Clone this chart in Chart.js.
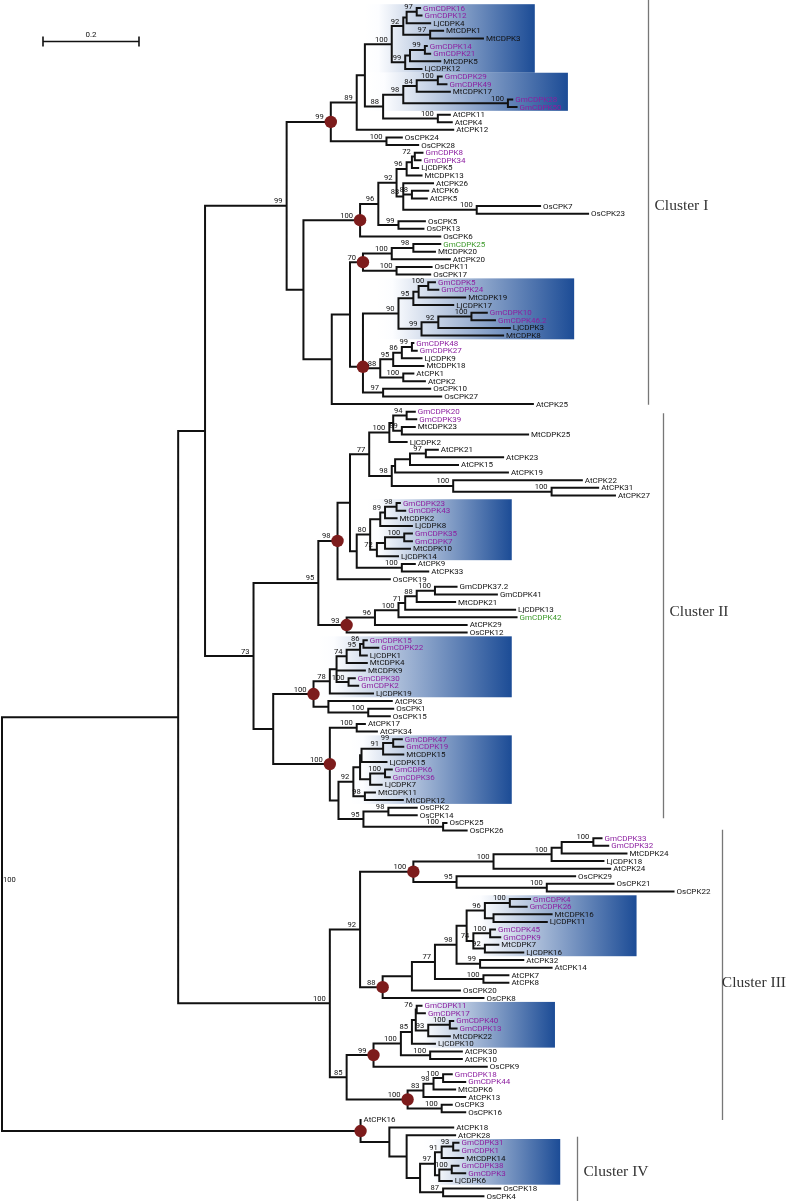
<!DOCTYPE html>
<html>
<head>
<meta charset="utf-8">
<script src="https://cdn.jsdelivr.net/npm/chart.js@4.4.0/dist/chart.umd.min.js"></script>
<style>
  html, body { margin: 0; padding: 0; background: #fff; }
  #wrap { width: 787px; height: 1201px; }
</style>
</head>
<body>
<div id="wrap"><canvas id="tree" width="787" height="1201"></canvas></div>
<script>
// ---------------------------------------------------------------
// Tip order (top to bottom) and tip depth, substitutions per site
// ---------------------------------------------------------------
const leavesI = ['GmCDPK16','GmCDPK12','LjCDPK4','MtCDPK1','MtCDPK3','GmCDPK14','GmCDPK21','MtCDPK5','LjCDPK12',
  'GmCDPK29','GmCDPK49','MtCDPK17','GmCDPK28','GmCDPK50','AtCPK11','AtCPK4','AtCPK12','OsCPK24','OsCPK28',
  'GmCDPK8','GmCDPK34','LjCDPK5','MtCDPK13','AtCPK26','AtCPK6','AtCPK5','OsCPK7','OsCPK23','OsCPK5','OsCPK13','OsCPK6',
  'GmCDPK25','MtCDPK20','AtCPK20','OsCPK11','OsCPK17','GmCDPK5','GmCDPK24','MtCDPK19','LjCDPK17','GmCDPK10','GmCDPK46.2',
  'LjCDPK3','MtCDPK8','GmCDPK48','GmCDPK27','LjCDPK9','MtCDPK18','AtCPK1','AtCPK2','OsCPK10','OsCPK27','AtCPK25'];
const depthI = [0.871,0.874,0.892,0.919,1.002,0.885,0.892,0.913,0.874,
  0.916,0.926,0.933,1.063,1.072,0.933,0.937,0.940,0.833,0.867,
  0.876,0.872,0.867,0.874,0.898,0.888,0.885,1.121,1.221,0.881,0.878,0.913,
  0.913,0.902,0.933,0.895,0.892,0.902,0.909,0.965,0.940,1.010,1.027,
  1.058,1.044,0.857,0.864,0.874,0.878,0.857,0.881,0.892,0.915,1.106];

const leavesII = ['GmCDPK20','GmCDPK39','MtCDPK23','MtCDPK25','LjCDPK2','AtCPK21','AtCPK23','AtCPK15','AtCPK19',
  'AtCPK22','AtCPK31','AtCPK27','GmCDPK23','GmCDPK43','MtCDPK2','LjCDPK8','GmCDPK35','GmCDPK7','MtCDPK10','LjCDPK14',
  'AtCPK9','AtCPK33','OsCPK19','GmCDPK37.2','GmCDPK41','MtCDPK21','LjCDPK13','GmCDPK42','AtCPK29','OsCPK12',
  'GmCDPK15','GmCDPK22','LjCDPK1','MtCDPK4','MtCDPK9','GmCDPK30','GmCDPK2','LjCDPK19','AtCPK3','OsCPK1','OsCPK15',
  'AtCPK17','AtCPK34','GmCDPK47','GmCDPK19','MtCDPK15','LjCDPK15','GmCDPK6','GmCDPK36','LjCDPK7','MtCDPK11','MtCDPK12',
  'OsCPK2','OsCPK14','OsCPK25','OsCPK26'];
const depthII = [0.860,0.863,0.860,1.096,0.843,0.908,1.044,0.950,1.054,
  1.208,1.242,1.277,0.829,0.840,0.822,0.854,0.854,0.854,0.850,0.825,
  0.860,0.888,0.808,0.947,1.031,0.944,1.069,1.072,0.968,0.968,
  0.760,0.784,0.760,0.760,0.756,0.735,0.742,0.773,0.812,0.815,0.808,
  0.756,0.781,0.833,0.836,0.836,0.801,0.812,0.808,0.791,0.777,0.835,
  0.864,0.864,0.926,0.968];

const leavesIII = ['GmCDPK33','GmCDPK32','MtCDPK24','LjCDPK18','AtCPK24','OsCPK29','OsCPK21','OsCPK22',
  'GmCDPK4','GmCDPK26','MtCDPK16','LjCDPK11','GmCDPK45','GmCDPK9','MtCDPK7','LjCDPK16','AtCPK32','AtCPK14',
  'AtCPK7','AtCPK8','OsCPK20','OsCPK8','GmCDPK11','GmCDPK17','GmCDPK40','GmCDPK13','MtCDPK22','LjCDPK10',
  'AtCPK30','AtCPK10','OsCPK9','GmCDPK18','GmCDPK44','MtCDPK6','AtCPK13','OsCPK3','OsCPK16'];
const depthIII = [1.249,1.263,1.301,1.253,1.267,1.194,1.274,1.399,
  1.100,1.093,1.145,1.135,1.027,1.038,1.034,1.086,1.086,1.145,
  1.055,1.055,0.954,1.003,0.874,0.881,0.940,0.947,0.933,0.902,
  0.958,0.958,1.010,0.937,0.965,0.944,0.965,0.937,0.965];

const leavesIV = ['AtCPK16','AtCPK18','AtCPK28','GmCDPK31','GmCDPK1','MtCDPK14','GmCDPK38','GmCDPK3','LjCDPK6','OsCPK18','OsCPK4'];
const depthIV = [0.747,0.940,0.944,0.951,0.951,0.961,0.951,0.965,0.937,1.038,1.003];

// ---------------------------------------------------------------
// Internal nodes: [id, depth, bootstrap, ...children] (children first)
// ---------------------------------------------------------------
const nodesI = [
  ['A1',0.864,'97','GmCDPK16','GmCDPK12'], ['A2',0.843,'','A1','LjCDPK4'], ['A3',0.892,'97','MtCDPK1','MtCDPK3'],
  ['A4',0.836,'92','A2','A3'], ['A5',0.881,'99','GmCDPK14','GmCDPK21'], ['A6',0.850,'','A5','MtCDPK5'],
  ['A7',0.840,'99','A6','LjCDPK12'], ['A8',0.812,'100','A4','A7'],
  ['B1',0.908,'100','GmCDPK29','GmCDPK49'], ['B2',0.864,'84','B1','MtCDPK17'], ['B3',1.054,'100','GmCDPK28','GmCDPK50'],
  ['B4',0.836,'98','B2','B3'], ['B5',0.908,'100','AtCPK11','AtCPK4'], ['B6',0.794,'88','B4','B5'],
  ['A9',0.756,'','A8','B6'], ['A10',0.739,'89','A9','AtCPK12'], ['C1',0.801,'100','OsCPK24','OsCPK28'],
  ['C2',0.685,'99','A10','C1'],
  ['D1',0.860,'72','GmCDPK8','GmCDPK34'], ['D2',0.854,'','D1','LjCDPK5'], ['D3',0.843,'96','D2','MtCDPK13'],
  ['D4',0.854,'88','AtCPK6','AtCPK5'], ['D5',0.989,'100','OsCPK7','OsCPK23'], ['D6',0.836,'83','AtCPK26','D4','D5'],
  ['D7',0.822,'92','D3','D6'], ['E1',0.826,'99','OsCPK5','OsCPK13'], ['E2',0.784,'96','D7','E1'],
  ['E3',0.746,'100','E2','OsCPK6'],
  ['F1',0.857,'98','GmCDPK25','MtCDPK20'], ['F2',0.812,'100','F1','AtCPK20'], ['F3',0.822,'100','OsCPK11','OsCPK17'],
  ['F4',0.752,'70','F2','F3'],
  ['G1',0.888,'100','GmCDPK5','GmCDPK24'], ['G2',0.868,'','G1','MtCDPK19'], ['G3',0.857,'95','G2','LjCDPK17'],
  ['G4',0.978,'100','GmCDPK10','GmCDPK46.2'], ['G5',0.909,'92','G4','LjCDPK3'], ['G6',0.874,'99','G5','MtCDPK8'],
  ['G7',0.826,'90','G3','G6'],
  ['H1',0.854,'99','GmCDPK48','GmCDPK27'], ['H2',0.833,'86','H1','LjCDPK9'], ['H3',0.815,'95','H2','MtCDPK18'],
  ['H4',0.836,'100','AtCPK1','AtCPK2'], ['H5',0.788,'88','H3','H4'], ['H6',0.794,'97','OsCPK10','OsCPK27'],
  ['H7',0.752,'','G7','H5'], ['H8',0.752,'','H7','H6'],
  ['I1',0.725,'','F4','H8'], ['I2',0.687,'','I1','AtCPK25'], ['I3',0.628,'','E3','I2'], ['I4',0.593,'99','C2','I3']
];

const nodesII = [
  ['J1',0.843,'94','GmCDPK20','GmCDPK39'], ['J2',0.833,'89','MtCDPK23','MtCDPK25'], ['J3',0.815,'','J1','J2'],
  ['J4',0.807,'100','J3','LjCDPK2'],
  ['K1',0.883,'97','AtCPK21','AtCPK23'], ['K2',0.850,'','K1','AtCPK15'], ['K3',0.819,'','K2','AtCPK19'],
  ['K4',1.145,'100','AtCPK31','AtCPK27'], ['K5',0.940,'100','AtCPK22','K4'], ['K6',0.812,'98','K3','K5'],
  ['K7',0.765,'77','J4','K6'],
  ['L1',0.822,'98','GmCDPK23','GmCDPK43'], ['L2',0.798,'89','L1','MtCDPK2'], ['L3',0.788,'','L2','LjCDPK8'],
  ['L4',0.838,'100','GmCDPK35','GmCDPK7'], ['L5',0.798,'','L4','MtCDPK10'], ['L6',0.781,'72','L5','LjCDPK14'],
  ['L7',0.767,'80','L3','L6'], ['L8',0.833,'100','AtCPK9','AtCPK33'], ['L9',0.739,'','L7','L8'],
  ['L10',0.725,'','K7','L9'], ['L11',0.699,'98','L10','OsCPK19'],
  ['M1',0.902,'100','GmCDPK37.2','GmCDPK41'], ['M2',0.864,'88','M1','MtCDPK21'], ['M3',0.840,'71','M2','LjCDPK13'],
  ['M4',0.826,'100','M3','GmCDPK42'], ['M5',0.777,'96','M4','AtCPK29'], ['M6',0.718,'93','M5','OsCPK12'],
  ['M7',0.659,'95','L11','M6'],
  ['O1',0.753,'86','GmCDPK15','GmCDPK22'], ['O2',0.746,'95','O1','LjCDPK1'], ['O3',0.718,'74','O2','MtCDPK4'],
  ['O4',0.722,'100','GmCDPK30','GmCDPK2'], ['O5',0.697,'','O3','MtCDPK9','O4'], ['O6',0.683,'78','O5','LjCDPK19'],
  ['O7',0.763,'100','OsCPK1','OsCPK15'], ['O8',0.680,'','AtCPK3','O7'], ['O9',0.649,'100','O6','O8'],
  ['P1',0.739,'100','AtCPK17','AtCPK34'], ['P2',0.815,'99','GmCDPK47','GmCDPK19'], ['P3',0.794,'91','P2','MtCDPK15'],
  ['P4',0.749,'','P3','LjCDPK15'], ['P5',0.798,'100','GmCDPK6','GmCDPK36'], ['P6',0.767,'','P5','LjCDPK7'],
  ['P7',0.746,'','P4','P6'], ['P8',0.756,'98','MtCDPK11','MtCDPK12'], ['P9',0.732,'92','P7','P8'],
  ['P10',0.805,'98','OsCPK2','OsCPK14'], ['P11',0.919,'100','OsCPK25','OsCPK26'], ['P12',0.753,'95','P10','P11'],
  ['P13',0.701,'','P9','P12'], ['P14',0.683,'100','P1','P13'],
  ['P15',0.565,'','O9','P14'], ['P16',0.524,'73','M7','P15']
];

const nodesIII = [
  ['Q1',1.232,'100','GmCDPK33','GmCDPK32'], ['Q2',1.166,'','Q1','MtCDPK24'], ['Q3',1.145,'100','Q2','LjCDPK18'],
  ['Q4',1.024,'100','Q3','AtCPK24'], ['Q5',1.135,'100','OsCPK21','OsCPK22'], ['Q6',0.947,'95','OsCPK29','Q5'],
  ['Q7',0.857,'100','Q4','Q6'],
  ['R1',1.058,'100','GmCDPK4','GmCDPK26'], ['R2',1.024,'','MtCDPK16','LjCDPK11'], ['R3',1.006,'96','R1','R2'],
  ['R4',1.017,'100','GmCDPK45','GmCDPK9'], ['R5',1.006,'92','MtCDPK7','LjCDPK16'], ['R6',0.982,'74','R4','R5'],
  ['R7',0.968,'','R3','R6'], ['R8',0.996,'99','AtCPK32','AtCPK14'], ['R9',0.947,'98','R7','R8'],
  ['R10',1.003,'100','AtCPK7','AtCPK8'], ['R11',0.902,'77','R9','R10'], ['R12',0.854,'','R11','OsCPK20'],
  ['R13',0.793,'88','R12','OsCPK8'], ['R14',0.746,'92','Q7','R13'],
  ['S1',0.864,'76','GmCDPK11','GmCDPK17'], ['S2',0.933,'100','GmCDPK40','GmCDPK13'], ['S3',0.888,'93','S2','MtCDPK22'],
  ['S4',0.862,'','S1','S3'], ['S5',0.854,'85','S4','LjCDPK10'], ['S6',0.892,'100','AtCPK30','AtCPK10'],
  ['S7',0.831,'100','S5','S6'], ['S8',0.774,'99','S7','OsCPK9'],
  ['T1',0.919,'100','GmCDPK18','GmCDPK44'], ['T2',0.899,'98','T1','MtCDPK6'], ['T3',0.878,'83','T2','AtCPK13'],
  ['T4',0.916,'100','OsCPK3','OsCPK16'], ['T5',0.845,'100','T3','T4'],
  ['T6',0.718,'85','S8','T5'], ['T7',0.683,'100','R14','T6']
];

const nodesIV = [
  ['U1',0.940,'93','GmCDPK31','GmCDPK1'], ['U2',0.916,'91','U1','MtCDPK14'], ['U3',0.937,'100','GmCDPK38','GmCDPK3'],
  ['U4',0.911,'','U3','LjCDPK6'], ['U5',0.902,'97','U2','U4'], ['U6',0.919,'87','OsCPK18','OsCPK4'],
  ['U7',0.871,'','U5','U6'], ['U8',0.843,'','AtCPK28','U7'], ['U9',0.807,'','AtCPK18','U8'],
  ['U10',0.747,'','AtCPK16','U9']
];

const nodesTop = [
  ['V1',0.423,'','I4','P16'], ['V2',0.367,'','V1','T7'], ['ROOT',0,'100','V2','U10']
];

// nodes marked with a dot in the figure
const markedNodes = ['C2','E3','F4','H8','L11','M6','O9','P14','Q7','R13','S8','T5','U10'];
// soybean genes drawn in other colours
const greenGenes = ['GmCDPK25','GmCDPK42'];
const plainGenes = ['GmCDPK37.2','GmCDPK41'];

// shaded legume groups: first tip, last tip, from depth, to depth
const shadedGroups = [
  ['GmCDPK16','LjCDPK12',0.756,1.110], ['GmCDPK29','GmCDPK50',0.763,1.179], ['GmCDPK5','MtCDPK8',0.781,1.192],
  ['GmCDPK23','LjCDPK14',0.760,1.062], ['GmCDPK15','LjCDPK19',0.659,1.062], ['GmCDPK47','MtCDPK12',0.725,1.062],
  ['GmCDPK4','LjCDPK16',0.969,1.322], ['GmCDPK11','LjCDPK10',0.856,1.152], ['GmCDPK31','LjCDPK6',0.877,1.163]
];

// cluster brackets: name, top row, bottom row, depth of bar, label row
const clusterNames = ['Cluster I','Cluster II','Cluster III','Cluster IV'];
const clusterRows = [[-1.2,52.1,26],[53.2,106.4,79.3],[107.9,146,128],[148.2,157,152.8]];
const clusterDepth = [1.346,1.377,1.500,1.198];

const scaleBarValue = 0.2;

// ---------------------------------------------------------------
const leaves = leavesI.concat(leavesII, leavesIII, leavesIV);
const depths = depthI.concat(depthII, depthIII, depthIV);
const nodes = nodesI.concat(nodesII, nodesIII, nodesIV, nodesTop);

const pos = {};
leaves.forEach((name, i) => { pos[name] = { x: depths[i], y: i, leaf: true }; });
nodes.forEach(([id, d, sup, ...kids]) => {
  kids.forEach(k => { if (!pos[k]) throw new Error('unknown child ' + k); });
  const ys = kids.map(k => pos[k].y);
  pos[id] = { x: d, y: (ys[0] + ys[ys.length - 1]) / 2, sup: sup, kids: kids };
});

// every branch as a pair of points, broken by empty points
const branchPts = [];
nodes.forEach(([id]) => {
  const p = pos[id];
  const ys = p.kids.map(k => pos[k].y);
  branchPts.push({ x: p.x, y: Math.min(...ys) }, { x: p.x, y: Math.max(...ys) }, { x: null, y: null });
  p.kids.forEach(k => {
    branchPts.push({ x: p.x, y: pos[k].y }, { x: pos[k].x, y: pos[k].y }, { x: null, y: null });
  });
});
const dotPts = markedNodes.map(id => ({ x: pos[id].x, y: pos[id].y }));

function geneColor(name) {
  if (greenGenes.includes(name)) return '#3d9a2b';
  if (name.startsWith('Gm') && !plainGenes.includes(name)) return '#8c1fa0';
  return '#111';
}

const treeDecor = {
  id: 'treeDecor',
  beforeDatasetsDraw(chart) {
    const ctx = chart.ctx, xs = chart.scales.x, ys = chart.scales.y;
    shadedGroups.forEach(([a, b, d0, d1]) => {
      const x0 = xs.getPixelForValue(d0), x1 = xs.getPixelForValue(d1);
      const y0 = ys.getPixelForValue(pos[a].y - 0.5), y1 = ys.getPixelForValue(pos[b].y + 0.5);
      const g = ctx.createLinearGradient(x0, 0, x1, 0);
      g.addColorStop(0, 'rgba(255,255,255,1)');
      g.addColorStop(0.08, 'rgb(252,253,255)');
      g.addColorStop(1, 'rgb(28,76,150)');
      ctx.fillStyle = g;
      ctx.fillRect(x0, y0, x1 - x0, y1 - y0);
    });
  },
  afterDatasetsDraw(chart) {
    const ctx = chart.ctx, xs = chart.scales.x, ys = chart.scales.y;
    ctx.save();
    // tip names
    ctx.font = '8px Roboto';
    ctx.textAlign = 'left';
    ctx.textBaseline = 'middle';
    leaves.forEach(name => {
      ctx.fillStyle = geneColor(name);
      ctx.fillText(name, xs.getPixelForValue(pos[name].x) + 3, ys.getPixelForValue(pos[name].y) + 0.5);
    });
    // bootstrap values
    ctx.font = '7.6px Roboto';
    ctx.fillStyle = '#111';
    ctx.textBaseline = 'alphabetic';
    nodes.forEach(([id]) => {
      const p = pos[id];
      if (!p.sup) return;
      const px = xs.getPixelForValue(p.x), py = ys.getPixelForValue(p.y);
      if (id === 'ROOT') {
        ctx.textAlign = 'left';
        ctx.fillText(p.sup, px + 1, py - 42);
        return;
      }
      ctx.textAlign = 'right';
      ctx.fillText(p.sup, px - (markedNodes.includes(id) ? 7 : 4), py - 2.5);
    });
    // cluster brackets
    ctx.strokeStyle = '#777';
    ctx.lineWidth = 1.3;
    ctx.font = '15.5px "Liberation Serif"';
    ctx.fillStyle = '#333';
    ctx.textAlign = 'left';
    ctx.textBaseline = 'middle';
    clusterNames.forEach((name, i) => {
      const bx = Math.round(xs.getPixelForValue(clusterDepth[i])) + 0.5;
      ctx.beginPath();
      ctx.moveTo(bx, ys.getPixelForValue(clusterRows[i][0]));
      ctx.lineTo(bx, ys.getPixelForValue(clusterRows[i][1]));
      ctx.stroke();
      const w = ctx.measureText(name).width;
      const tx = Math.min(bx + 6, chart.width - w - 1);
      ctx.fillText(name, tx, ys.getPixelForValue(clusterRows[i][2]));
    });
    // scale bar
    const sx0 = xs.getPixelForValue(0.0854), sx1 = xs.getPixelForValue(0.0854 + scaleBarValue);
    const sy = Math.round(ys.getPixelForValue(4.33)) + 0.5;
    ctx.strokeStyle = '#111';
    ctx.lineWidth = 1.6;
    ctx.beginPath();
    ctx.moveTo(sx0, sy); ctx.lineTo(sx1, sy);
    ctx.moveTo(sx0, sy - 5); ctx.lineTo(sx0, sy + 5);
    ctx.moveTo(sx1, sy - 5); ctx.lineTo(sx1, sy + 5);
    ctx.stroke();
    ctx.font = '8px Roboto';
    ctx.fillStyle = '#111';
    ctx.textAlign = 'center';
    ctx.textBaseline = 'alphabetic';
    ctx.fillText(String(scaleBarValue), (sx0 + sx1) / 2, sy - 5);
    ctx.restore();
  }
};

new Chart(document.getElementById('tree'), {
  type: 'scatter',
  data: {
    datasets: [
      {
        label: 'supported nodes',
        data: dotPts,
        pointRadius: 6.2,
        pointBackgroundColor: '#7d1c1c',
        pointBorderWidth: 0,
        order: 0
      },
      {
        label: 'branches',
        data: branchPts,
        showLine: true,
        spanGaps: false,
        pointRadius: 0,
        borderColor: '#111',
        borderWidth: 2,
        borderCapStyle: 'square',
        order: 1
      }
    ]
  },
  options: {
    responsive: false,
    animation: false,
    events: [],
    layout: { autoPadding: false, padding: 0 },
    plugins: { legend: { display: false }, tooltip: { enabled: false } },
    scales: {
      x: { type: 'linear', display: false, min: -0.00417, max: 1.63542 },
      y: { type: 'linear', display: false, reverse: true, min: -1.0504, max: 156.64 }
    }
  },
  plugins: [treeDecor]
});
</script>
</body>
</html>
